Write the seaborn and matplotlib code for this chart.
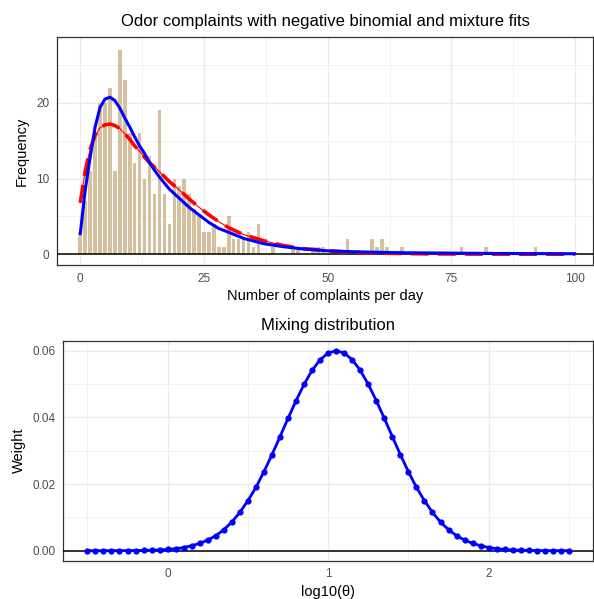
import numpy as np
import pandas as pd
import matplotlib
matplotlib.use("Agg")
import matplotlib.pyplot as plt
from matplotlib.ticker import FixedLocator
import seaborn as sns

# ---------------- data ----------------
complaints = list(range(0, 101))
frequency = [3, 7, 11, 16, 20, 20, 22, 11, 27, 23,
             16, 12, 16, 10, 13, 8, 19, 8, 4, 10,
             9, 10, 8, 6, 5, 3, 3, 4, 1, 1,
             5, 2, 2, 2, 3, 1, 4, 0, 0, 1,
             0, 0, 0, 1, 1, 0, 0, 1, 1, 1,
             0, 0, 0, 0, 2, 0, 0, 0, 0, 2,
             1, 2, 1, 0, 0, 1, 0, 0, 0, 0,
             0, 0, 0, 0, 0, 0, 0, 1, 0, 0,
             0, 0, 1, 0, 0, 0, 0, 0, 0, 0,
             0, 0, 1, 0, 0, 0, 0, 0, 0, 0,
             0]

nb_x = [0, 1, 2, 3, 4, 5, 6, 7, 8, 9, 10, 11, 12, 13, 14, 15, 16, 18, 20, 22,
        24, 26, 28, 30, 33, 37, 41, 45, 50, 55, 60, 70, 80, 90, 100]
nb_fit = [6.8, 11.0, 13.9, 15.7, 16.7, 17.1, 17.2, 17.0, 16.6, 15.9, 15.2, 14.3,
          13.6, 12.8, 12.1, 11.5, 10.9, 9.6, 8.5, 7.3, 6.2, 5.2, 4.3, 3.5, 2.6,
          1.8, 1.15, 0.75, 0.45, 0.25, 0.15, 0.05, 0.02, 0.01, 0.0]

mix_x = [0, 1, 2, 3, 4, 5, 6, 7, 8, 9, 10, 11, 12, 13, 14, 15, 16, 18, 20, 22,
         24, 26, 28, 30, 33, 37, 41, 45, 50, 57, 65, 75, 85, 100]
mix_fit = [2.7, 8.5, 12.8, 16.8, 19.4, 20.5, 20.75, 20.3, 19.3, 18.0, 16.8, 15.5,
           14.3, 13.3, 12.1, 11.1, 10.2, 8.6, 7.4, 6.2, 5.2, 4.2, 3.4, 2.9, 2.1,
           1.4, 1.0, 0.7, 0.45, 0.3, 0.2, 0.15, 0.1, 0.07]

log10_theta = [-0.50, -0.45, -0.40, -0.35, -0.30, -0.25, -0.20, -0.15, -0.10, -0.05,
               0.00, 0.05, 0.10, 0.15, 0.20, 0.25, 0.30, 0.35, 0.40, 0.45,
               0.50, 0.55, 0.60, 0.65, 0.70, 0.75, 0.80, 0.85, 0.90, 0.95,
               1.00, 1.05, 1.10, 1.15, 1.20, 1.25, 1.30, 1.35, 1.40, 1.45,
               1.50, 1.55, 1.60, 1.65, 1.70, 1.75, 1.80, 1.85, 1.90, 1.95,
               2.00, 2.05, 2.10, 2.15, 2.20, 2.25, 2.30, 2.35, 2.40, 2.45, 2.50]
weight = [0.0, 0.0, 0.0, 0.00001, 0.00001, 0.00003, 0.00005, 0.00008, 0.00014, 0.00023,
          0.00038, 0.00061, 0.00095, 0.0015, 0.0022, 0.0032, 0.0045, 0.0063, 0.0086, 0.0115,
          0.0150, 0.0190, 0.0237, 0.0288, 0.0342, 0.0397, 0.0450, 0.0499, 0.0541, 0.0573,
          0.0593, 0.0600, 0.0593, 0.0573, 0.0541, 0.0499, 0.0450, 0.0397, 0.0342, 0.0288,
          0.0237, 0.0190, 0.0150, 0.0115, 0.0086, 0.0063, 0.0045, 0.0032, 0.0022, 0.0015,
          0.00095, 0.00061, 0.00038, 0.00023, 0.00014, 0.00008, 0.00005, 0.00003, 0.00001,
          0.00001, 0.0]

hist_df = pd.DataFrame({"complaints": complaints, "frequency": frequency})
nb_df = pd.DataFrame({"x": nb_x, "y": nb_fit})
mix_df = pd.DataFrame({"x": mix_x, "y": mix_fit})
w_df = pd.DataFrame({"theta": log10_theta, "weight": weight})

# ---------------- style ----------------
sns.set_style("white")
plt.rcParams["font.family"] = ["Liberation Sans", "DejaVu Sans"]

W, H = 594, 599
fig = plt.figure(figsize=(W / 100, H / 100), dpi=100)


def px_axes(left, top, right, bottom):
    return fig.add_axes([left / W, (H - bottom) / H, (right - left) / W, (bottom - top) / H])


def bw_theme(ax, major_x, minor_x, major_y, minor_y):
    ax.set_facecolor("white")
    ax.xaxis.set_major_locator(FixedLocator(major_x))
    ax.xaxis.set_minor_locator(FixedLocator(minor_x))
    ax.yaxis.set_major_locator(FixedLocator(major_y))
    ax.yaxis.set_minor_locator(FixedLocator(minor_y))
    ax.grid(True, which="major", color="#EBEBEB", linewidth=1.0, zorder=0)
    ax.grid(True, which="minor", color="#EBEBEB", linewidth=0.5, zorder=0)
    ax.set_axisbelow(True)
    for s in ax.spines.values():
        s.set_visible(True)
        s.set_color("#333333")
        s.set_linewidth(0.9)
    ax.tick_params(which="major", length=3.5, width=0.8, color="#333333",
                   labelcolor="#4D4D4D", labelsize=8.5, pad=2)
    ax.tick_params(which="minor", length=0)


# ---------------- top panel ----------------
ax1 = px_axes(57, 37, 593, 265)
sns.histplot(data=hist_df, x="complaints", weights="frequency", discrete=True,
             shrink=0.72, color="#D4C09E", alpha=1.0, edgecolor="none", linewidth=0,
             ax=ax1, zorder=2)
ax1.axhline(0, color="black", linewidth=1.1, zorder=3)
sns.lineplot(data=nb_df, x="x", y="y", color="red", linewidth=2.6,
             linestyle=(0, (5, 2.5)), ax=ax1, zorder=4)
sns.lineplot(data=nb_df, x="x", y="y", color="red", linewidth=0.8, ax=ax1, zorder=4)
sns.lineplot(data=mix_df, x="x", y="y", color="blue", linewidth=2.2, ax=ax1, zorder=5)
ax1.set_xlim(-4.7, 103.6)
ax1.set_ylim(-1.42, 28.7)
bw_theme(ax1, [0, 25, 50, 75, 100], [12.5, 37.5, 62.5, 87.5],
         [0, 10, 20], [5, 15, 25])
ax1.set_xticklabels(["0", "25", "50", "75", "100"])
ax1.set_yticklabels(["0", "10", "20"])
ax1.set_xlabel("Number of complaints per day", fontsize=10.5, color="black", labelpad=3)
ax1.set_ylabel("Frequency", fontsize=10.5, color="black", labelpad=5)
ax1.set_title("Odor complaints with negative binomial and mixture fits",
              fontsize=12, color="black", pad=8)

# ---------------- bottom panel ----------------
ax2 = px_axes(63.3, 340.7, 593, 560.7)
ax2.axhline(0, color="black", linewidth=1.1, zorder=3)
sns.lineplot(data=w_df, x="theta", y="weight", color="blue", linewidth=2.0,
             marker="o", markersize=4.5, markeredgewidth=0, ax=ax2, zorder=4)
ax2.set_xlim(-0.65, 2.65)
ax2.set_ylim(-0.003, 0.063)
bw_theme(ax2, [0, 1, 2], [-0.5, 0.5, 1.5, 2.5],
         [0.0, 0.02, 0.04, 0.06], [0.01, 0.03, 0.05])
ax2.set_xticklabels(["0", "1", "2"])
ax2.set_yticklabels(["0.00", "0.02", "0.04", "0.06"])
ax2.set_xlabel("log10(\u03b8)", fontsize=10.5, color="black", labelpad=3)
ax2.set_ylabel("Weight", fontsize=10.5, color="black", labelpad=5)
ax2.set_title("Mixing distribution", fontsize=12, color="black", pad=8)

fig.savefig("out.png", dpi=100, facecolor="white")
